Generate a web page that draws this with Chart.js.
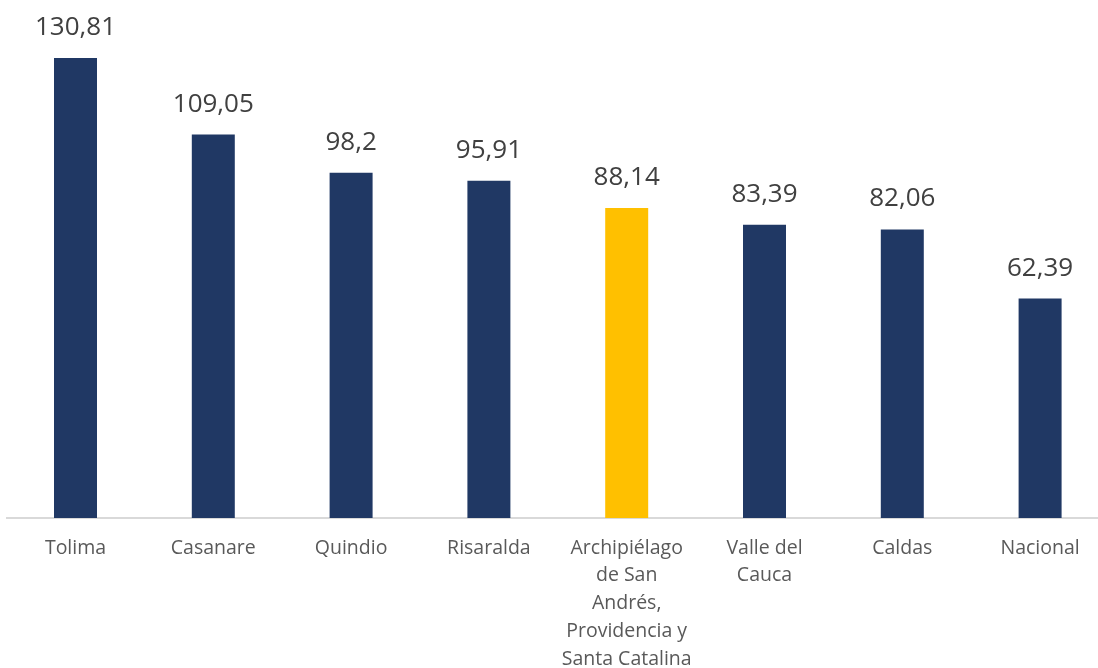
<!DOCTYPE html>
<html>
<head>
<meta charset="utf-8">
<script src="https://cdn.jsdelivr.net/npm/chart.js@4.4.0/dist/chart.umd.min.js"></script>
<style>
  html, body { margin: 0; padding: 0; background: #fff; overflow: hidden; }
  .wrap { width: 1098px; height: 668px; overflow: hidden; }
</style>
</head>
<body>
<div class="wrap">
  <canvas id="chart" width="1110" height="668"></canvas>
</div>
<script>
const categories = [
  'Tolima',
  'Casanare',
  'Quindio',
  'Risaralda',
  ['Archipiélago', 'de San', 'Andrés,', 'Providencia y', 'Santa Catalina'],
  ['Valle del', 'Cauca'],
  'Caldas',
  'Nacional'
];
const values = [130.81, 109.05, 98.2, 95.91, 88.14, 83.39, 82.06, 62.39];
const barColors = ['#203864', '#203864', '#203864', '#203864', '#FFC000', '#203864', '#203864', '#203864'];

const VALUE_TEXT = '#404040';
const fmt = v => String(v).replace('.', ',');

// value labels above each bar
const valueLabels = {
  id: 'valueLabels',
  afterDatasetsDraw(chart) {
    const ctx = chart.ctx;
    const meta = chart.getDatasetMeta(0);
    ctx.save();
    ctx.font = '26px "Open Sans"';
    ctx.fillStyle = VALUE_TEXT;
    ctx.textAlign = 'center';
    ctx.textBaseline = 'alphabetic';
    meta.data.forEach((bar, i) => {
      ctx.fillText(fmt(values[i]), bar.x, bar.y - 23);
    });
    ctx.restore();
  }
};

new Chart(document.getElementById('chart').getContext('2d'), {
  type: 'bar',
  data: {
    labels: categories,
    datasets: [{
      data: values,
      backgroundColor: barColors,
      borderWidth: 0,
      categoryPercentage: 1,
      barPercentage: 0.312
    }]
  },
  options: {
    responsive: false,
    animation: false,
    devicePixelRatio: 1,
    layout: { padding: { left: 6.6, right: 1, top: 0, bottom: 0 } },
    plugins: {
      legend: { display: false },
      tooltip: { enabled: false }
    },
    scales: {
      y: {
        display: false,
        min: 0,
        max: 147.3
      },
      x: {
        afterFit(scale) { scale.height = 150; },
        grid: { display: false, drawTicks: false },
        border: { display: true, color: '#d9d9d9', width: 2 },
        ticks: {
          color: '#595959',
          padding: 16,
          maxRotation: 0,
          autoSkip: false,
          font: { family: 'Open Sans', size: 19.5, lineHeight: 1.43 }
        }
      }
    }
  },
  plugins: [valueLabels]
});
</script>
</body>
</html>
